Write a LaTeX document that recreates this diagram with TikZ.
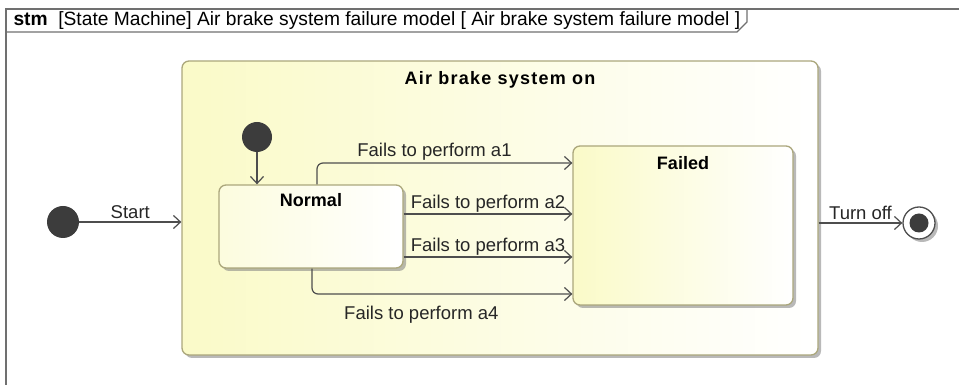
\documentclass[tikz,border=0pt]{standalone}
\usepackage{fontspec}
\setmainfont{Liberation Sans}
\usetikzlibrary{arrows.meta,shadows,positioning}

\definecolor{framegray}{HTML}{707070}
\definecolor{edgeolive}{HTML}{ABA77C}
\definecolor{statefill}{HTML}{FAFAC8}
\definecolor{dotgray}{HTML}{3C3C3C}
\definecolor{linegray}{HTML}{4E4E4E}

\tikzset{
  statebox/.style={draw=edgeolive, line width=1.3pt, rounded corners=7pt,
    left color=statefill, right color=white,
    drop shadow={shadow xshift=3pt, shadow yshift=-3pt, fill=black!50, opacity=.55}},
  pseudo/.style={circle, fill=dotgray, minimum size=32pt, inner sep=0pt},
  trans/.style={draw=linegray, line width=1.2pt, -{Straight Barb[length=7pt,width=13pt]}},
  translabel/.style={font=\fontsize{18.5}{21}\selectfont, text=black!85, inner sep=1pt},
  statetitle/.style={font=\bfseries\fontsize{18}{21}\selectfont}
}

\begin{document}
\begin{tikzpicture}[x=1pt, y=1pt]
  \useasboundingbox (0,0) rectangle (959,385);

  % diagram frame
  \draw[framegray, line width=1.6pt] (6,0) -- (6,376) -- (959,376);
  \draw[framegray, line width=1.3pt] (6,353) -- (737,353) -- (747,363) -- (747,376);
  \node[anchor=west, font=\fontsize{19.2}{22}\selectfont] (frametitle) at (10,364)
    {\textbf{stm}\ \ [State Machine] Air brake system failure model [ Air brake system failure model ]};

  % composite state
  \node[statebox, minimum width=636pt, minimum height=294pt] (system) at (500,177) {};
  \node[statetitle, below=8pt of system.north] (systemtitle) {\addfontfeatures{LetterSpace=7}Air brake system on};

  % substates
  \node[statebox, minimum width=184pt, minimum height=83pt, left color=statefill!60] (normal) at (311,158.5) {};
  \node[statetitle, below=6pt of normal.north] (normaltitle) {Normal};

  \node[statebox, minimum width=220pt, minimum height=159pt] (failed) at (683,159.5) {};
  \node[statetitle, below=8pt of failed.north] (failedtitle) {Failed};

  % pseudo states
  \node[pseudo] (init) at (63,163) {};
  \node[pseudo, minimum size=30pt] (subinit) at (257,248) {};
  \node[circle, draw=linegray, line width=1.3pt, fill=white, minimum size=32pt,
    drop shadow={shadow xshift=3pt, shadow yshift=-3pt, fill=black!50, opacity=.55}] (final) at (919,162) {};
  \node[pseudo, minimum size=19pt] (finaldot) at (final) {};

  % transitions
  \draw[trans] (init) -- (init -| system.west)
    node[translabel, midway, above=2pt] {Start};
  \draw[trans] (subinit) -- (subinit |- normal.north);

  \draw[trans, rounded corners=6pt] ([xshift=6pt]normal.north) |- ([yshift=62.5pt]failed.west)
    node[translabel, pos=0.73, above=1pt] {Fails to perform a1};
  \draw[trans] ([yshift=12.5pt]normal.east) -- ([yshift=12.5pt]normal.east -| failed.west)
    node[translabel, midway, above=0pt] {Fails to perform a2};
  \draw[trans] ([yshift=-30.5pt]normal.east) -- ([yshift=-30.5pt]normal.east -| failed.west)
    node[translabel, midway, above=0pt] {Fails to perform a3};
  \draw[trans, rounded corners=6pt] ([xshift=1pt]normal.south) |- ([yshift=-68.5pt]failed.west)
    node[translabel, pos=0.71, below=10pt] {Fails to perform a4};

  \draw[trans] ([yshift=-15pt]system.east) -- (final)
    node[translabel, midway, above=2pt] {Turn off};
\end{tikzpicture}
\end{document}
